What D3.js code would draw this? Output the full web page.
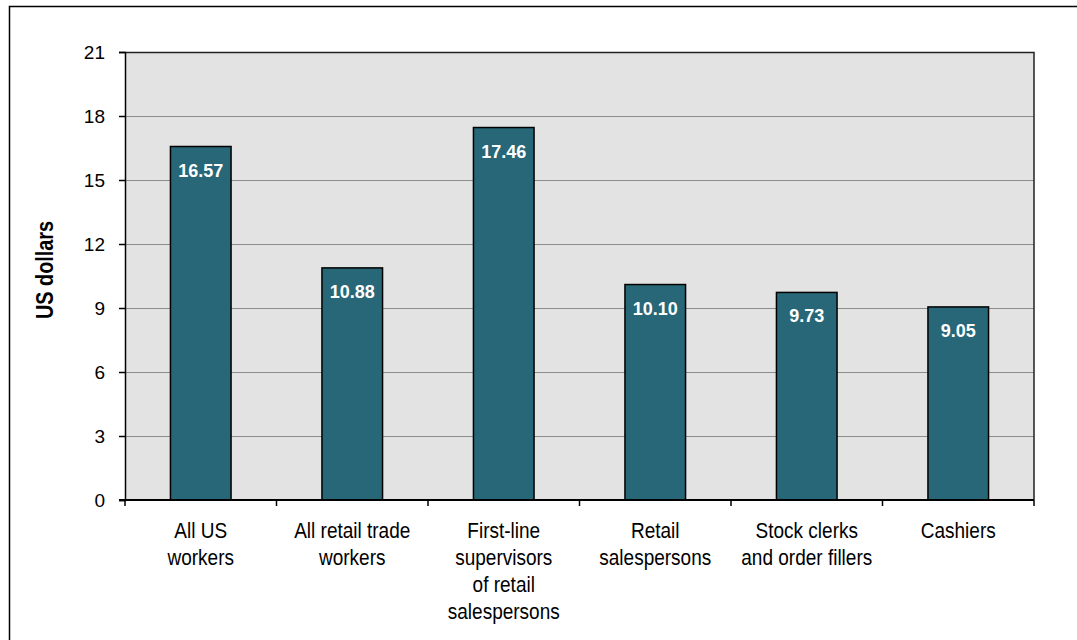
<!DOCTYPE html>
<html>
<head>
<meta charset="utf-8">
<script src="https://cdn.jsdelivr.net/npm/d3@7"></script>
<style>
  body { margin: 0; background: #fff; }
  svg { display: block; font-family: "Liberation Sans", Arial, sans-serif; }
</style>
</head>
<body>
<script>
const categories = [
  ["All US", "workers"],
  ["All retail trade", "workers"],
  ["First-line", "supervisors", "of retail", "salespersons"],
  ["Retail", "salespersons"],
  ["Stock clerks", "and order fillers"],
  ["Cashiers"]
];
const wages = [16.57, 10.88, 17.46, 10.10, 9.73, 9.05];
const yTicks = [0, 3, 6, 9, 12, 15, 18, 21];

const width = 1077, height = 640;
const margin = {top: 52, right: 43, bottom: 140, left: 125};
const narrow = 0.864; // squeeze to mimic a condensed face

const svg = d3.select("body").append("svg")
  .attr("width", width)
  .attr("height", height);

// outer frame (runs off the right and bottom edges)
svg.append("path")
  .attr("d", `M9.5,${height + 5}V6.5H${width + 5}`)
  .attr("fill", "none")
  .attr("stroke", "#000")
  .attr("stroke-width", 1.5);

const x = d3.scaleBand()
  .domain(d3.range(categories.length))
  .range([margin.left, width - margin.right])
  .paddingInner(0.6)
  .paddingOuter(0.3);

const y = d3.scaleLinear()
  .domain([0, 21])
  .range([height - margin.bottom, margin.top]);

const plotW = width - margin.right - margin.left;

// plot background
svg.append("rect")
  .attr("x", margin.left)
  .attr("y", margin.top)
  .attr("width", plotW)
  .attr("height", y(0) - margin.top)
  .attr("fill", "#e3e3e3");

// gridlines
svg.append("g")
  .selectAll("line")
  .data(yTicks.filter(d => d > 0 && d < 21))
  .enter().append("line")
    .attr("x1", margin.left)
    .attr("x2", width - margin.right)
    .attr("y1", d => Math.round(y(d)) + 0.5)
    .attr("y2", d => Math.round(y(d)) + 0.5)
    .attr("stroke", "#8c8c8c")
    .attr("stroke-width", 1);

// plot border top/right
svg.append("path")
  .attr("d", `M${margin.left},${margin.top + 0.5}H${width - margin.right}V${y(0)}`)
  .attr("fill", "none")
  .attr("stroke", "#222")
  .attr("stroke-width", 1.5);

// bars
svg.append("g")
  .selectAll("rect")
  .data(wages)
  .enter().append("rect")
    .attr("x", (d, i) => x(i))
    .attr("y", d => y(d))
    .attr("width", x.bandwidth())
    .attr("height", d => y(0) - y(d))
    .attr("fill", "#276777")
    .attr("stroke", "#000")
    .attr("stroke-width", 1.5);

// value labels
svg.append("g")
  .selectAll("text")
  .data(wages)
  .enter().append("text")
    .attr("x", (d, i) => x(i) + x.bandwidth() / 2)
    .attr("y", d => y(d) + 30)
    .attr("text-anchor", "middle")
    .attr("fill", "#fff")
    .attr("font-weight", "bold")
    .attr("font-size", 18)
    .text(d => d.toFixed(2));

// y axis
const yAxis = svg.append("g")
  .attr("transform", `translate(${margin.left},0)`)
  .call(d3.axisLeft(y).tickValues(yTicks).tickSize(6).tickPadding(14));
yAxis.select(".domain").attr("stroke", "#000").attr("stroke-width", 1.5);
yAxis.selectAll(".tick line").attr("stroke", "#000").attr("stroke-width", 1.5);
yAxis.selectAll(".tick text")
  .attr("font-size", 19)
  .attr("fill", "#000")
  .attr("font-family", "Liberation Sans, Arial, sans-serif");

// x axis with boundary ticks
const xBounds = d3.range(categories.length + 1).map(i => margin.left + i * plotW / categories.length);
svg.append("g")
  .selectAll("line")
  .data(xBounds)
  .enter().append("line")
    .attr("x1", d => d)
    .attr("x2", d => d)
    .attr("y1", y(0))
    .attr("y2", y(0) + 6)
    .attr("stroke", "#000")
    .attr("stroke-width", 1.5);
svg.append("line")
  .attr("x1", margin.left - 6)
  .attr("x2", width - margin.right)
  .attr("y1", y(0))
  .attr("y2", y(0))
  .attr("stroke", "#000")
  .attr("stroke-width", 2);

// category labels
const catText = svg.append("g")
  .selectAll("text")
  .data(categories)
  .enter().append("text")
    .attr("transform", (d, i) => `translate(${x(i) + x.bandwidth() / 2},${y(0) + 38}) scale(${narrow},1)`)
    .attr("text-anchor", "middle")
    .attr("font-size", 22)
    .attr("fill", "#000");
catText.selectAll("tspan")
  .data(d => d)
  .enter().append("tspan")
    .attr("x", 0)
    .attr("dy", (d, i) => i === 0 ? 0 : 27)
    .text(d => d);

// y axis title
svg.append("text")
  .attr("transform", `translate(53,${(margin.top + y(0)) / 2 - 6}) rotate(-90) scale(${narrow},1)`)
  .attr("text-anchor", "middle")
  .attr("font-weight", "bold")
  .attr("font-size", 23)
  .attr("fill", "#000")
  .text("US dollars");
</script>
</body>
</html>
